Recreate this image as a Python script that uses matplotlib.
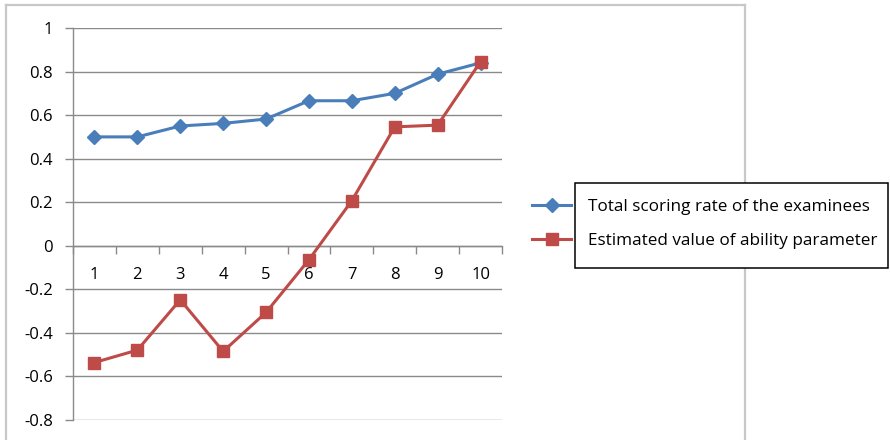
import matplotlib.pyplot as plt
from matplotlib.lines import Line2D
from matplotlib.patches import Rectangle
import numpy as np

plt.rcParams['font.family'] = ['Open Sans', 'DejaVu Sans']

# values
groups = np.arange(1, 11)
scoring_rate = [0.50, 0.50, 0.55, 0.562, 0.582, 0.666, 0.666, 0.70, 0.788, 0.84]
ability_est = [-0.536, -0.479, -0.248, -0.485, -0.306, -0.064, 0.207, 0.546, 0.554, 0.845]
labels = ['Total scoring rate of the examinees', 'Estimated value of ability parameter']

W, H = 890, 440
fig = plt.figure(figsize=(W / 100, H / 100), dpi=100)
ax = fig.add_axes([73 / W, 1 - 420 / H, (502 - 73) / W, (420 - 28) / H])

grid_c = '#8a8a8a'
ax.set_ylim(-0.8, 1.0)
ax.set_xlim(0.5, 10.5)
ax.set_yticks(np.arange(-0.8, 1.01, 0.2))
ax.set_yticklabels(['-0.8', '-0.6', '-0.4', '-0.2', '0', '0.2', '0.4', '0.6', '0.8', '1'])
for y in np.arange(-0.8, 1.01, 0.2):
    ax.axhline(y, color=grid_c, lw=1.0, zorder=0)

ax.set_xticks(groups)
ax.set_xticklabels([str(g) for g in groups])
ax.set_xticks(np.arange(0.5, 10.6, 1.0), minor=True)
ax.tick_params(axis='x', which='major', length=0, pad=15, labelsize=12)
ax.tick_params(axis='x', which='minor', length=5.5, width=1, color=grid_c, direction='out')
ax.tick_params(axis='y', length=5.5, width=1, color=grid_c, pad=9, labelsize=12)

for s in ['top', 'right']:
    ax.spines[s].set_visible(False)
ax.spines['bottom'].set_position(('data', 0))
ax.spines['bottom'].set_color(grid_c)
ax.spines['left'].set_color(grid_c)
ax.spines['bottom'].set_linewidth(1)
ax.spines['left'].set_linewidth(1)

blue, red = '#4a7ebb', '#be4b48'
l1, = ax.plot(groups, scoring_rate, color=blue, lw=2.2, marker='D', ms=7, zorder=3)
l2, = ax.plot(groups, ability_est, color=red, lw=2.2, marker='s', ms=9, zorder=4)

# outer chart frame
frame_c = '#c8c8c8'
for xs, ys in [([6, 745], [5, 5]), ([6, 6], [5, 440]), ([745, 745], [5, 440])]:
    fig.add_artist(Line2D([x / W for x in xs], [1 - y / H for y in ys],
                          color=frame_c, lw=1.6, zorder=1))

# legend box (markers sit outside it, as in the original)
fig.add_artist(Rectangle((575 / W, 1 - 268 / H), (888 - 575) / W, (268 - 183) / H,
                         facecolor='white', edgecolor='black', lw=1.1, zorder=3))
leg = fig.legend([l1, l2], labels, loc='center left', frameon=False,
                 bbox_to_anchor=(532 / W, 1 - 224 / H), bbox_transform=fig.transFigure,
                 borderpad=0, borderaxespad=0, handlelength=2.3, handletextpad=1.0,
                 labelspacing=1.05, fontsize=12.3)
leg.set_zorder(5)

fig.savefig('out.png', dpi=100)
